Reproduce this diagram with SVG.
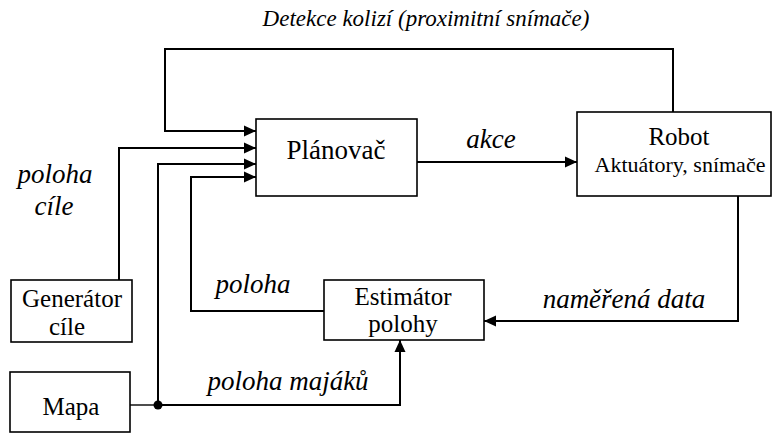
<svg xmlns="http://www.w3.org/2000/svg" width="773" height="434" viewBox="0 0 773 434" font-family="Liberation Serif, serif">
<rect width="773" height="434" fill="#fff"/>
<g id="planovac">
<rect x="256" y="119" width="161" height="77" fill="#fff" stroke="#000" stroke-width="1.6"/>
<text x="336" y="159" font-family="Liberation Serif" font-size="27" text-anchor="middle">Plánovač</text>
</g>
<g id="robot">
<rect x="577" y="112" width="194" height="84" fill="#fff" stroke="#000" stroke-width="1.6"/>
<text x="679" y="145" font-family="Liberation Serif" font-size="25" text-anchor="middle">Robot</text>
<text x="680" y="172" font-family="Liberation Serif" font-size="22" text-anchor="middle">Aktuátory, snímače</text>
</g>
<g id="generator">
<rect x="11" y="280" width="121" height="62" fill="#fff" stroke="#000" stroke-width="1.6"/>
<text x="72" y="307" font-family="Liberation Serif" font-size="25" text-anchor="middle">Generátor</text>
<text x="67" y="335" font-family="Liberation Serif" font-size="25" text-anchor="middle">cíle</text>
</g>
<g id="mapa">
<rect x="10" y="372" width="120" height="60" fill="#fff" stroke="#000" stroke-width="1.6"/>
<text x="71" y="415" font-family="Liberation Serif" font-size="25" text-anchor="middle">Mapa</text>
</g>
<g id="estimator">
<rect x="324" y="280" width="160" height="60" fill="#fff" stroke="#000" stroke-width="1.6"/>
<text x="403" y="305" font-family="Liberation Serif" font-size="25" text-anchor="middle">Estimátor</text>
<text x="403" y="332" font-family="Liberation Serif" font-size="25" text-anchor="middle">polohy</text>
</g>
<g id="connectors" fill="none" stroke="#000" stroke-width="2">
<path d="M673,112 V49 H165 V131 H256"/>
<path d="M119,280 V148 H256"/>
<path d="M158,405 V164 H256"/>
<path d="M324,311 H191 V177 H256"/>
<path d="M130,405 H158" stroke-width="1.4"/>
<path d="M158,405 H400 V340"/>
<path d="M417,162 H577"/>
<path d="M738,196 V321 H484"/>
<g fill="#000" stroke="none">
<circle cx="158" cy="405" r="4.5"/>
<path d="M256,131 l-12,-5.5 v11 z"/>
<path d="M256,148 l-12,-5.5 v11 z"/>
<path d="M256,164 l-12,-5.5 v11 z"/>
<path d="M256,177 l-12,-5.5 v11 z"/>
<path d="M577,162 l-12,-5.5 v11 z"/>
<path d="M484,321 l12,-5.5 v11 z"/>
<path d="M400,340 l-5.5,12 h11 z"/>
</g>
</g>
<g id="labels">
<text x="426" y="26" font-family="Liberation Serif" font-style="italic" font-size="23" text-anchor="middle">Detekce kolizí (proximitní snímače)</text>
<text x="491" y="148" font-family="Liberation Serif" font-style="italic" font-size="27" text-anchor="middle">akce</text>
<text x="55" y="183" font-family="Liberation Serif" font-style="italic" font-size="27" text-anchor="middle">poloha</text>
<text x="54" y="215" font-family="Liberation Serif" font-style="italic" font-size="27" text-anchor="middle">cíle</text>
<text x="253" y="293" font-family="Liberation Serif" font-style="italic" font-size="27" text-anchor="middle">poloha</text>
<text x="288" y="390" font-family="Liberation Serif" font-style="italic" font-size="27" text-anchor="middle">poloha majáků</text>
<text x="624" y="308" font-family="Liberation Serif" font-style="italic" font-size="27" text-anchor="middle">naměřená data</text>
</g>
</svg>
